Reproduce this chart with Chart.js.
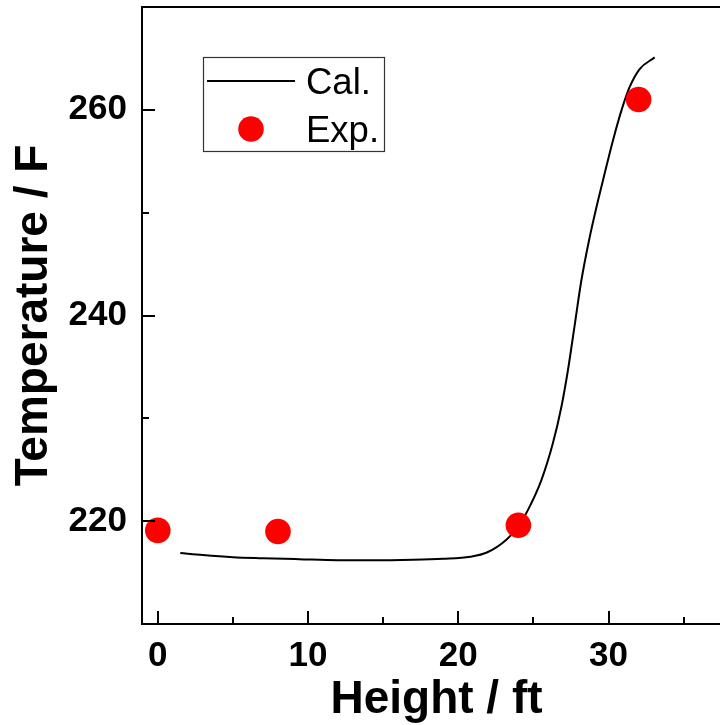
<!DOCTYPE html>
<html><head><meta charset="utf-8">
<script src="https://cdn.jsdelivr.net/npm/chart.js@4"></script>
<style>html,body{margin:0;padding:0;background:#fff;overflow:hidden;width:720px;height:725px}canvas{display:block}</style>
</head><body>
<canvas id="c" width="731" height="725"></canvas>
<script>
const calX = [1.5, 3, 5, 7, 9.4, 12, 14, 17, 19, 20.8, 21.9, 23.2, 24.0, 24.64, 25.53, 26.3, 26.86, 27.3, 27.74, 28.19, 28.7, 29.19, 29.74, 30.29, 30.85, 31.4, 32.07, 33.07];
const calY = [216.9, 216.7, 216.5, 216.4, 216.3, 216.2, 216.2, 216.25, 216.35, 216.55, 216.95, 218.2, 219.5, 221.1, 224.0, 227.6, 231.1, 234.7, 239.0, 243.4, 247.3, 250.5, 253.8, 257.0, 259.9, 262.2, 263.96, 265.1];
const expX = [0, 8, 24, 32];
const expY = [219.1, 219.0, 219.6, 261.0];
const xMajorTicks = [0, 10, 20, 30];
const xMinorTicks = [5, 15, 25, 35];
const yMajorTicks = [220, 240, 260];
const yMinorTicks = [230, 250];
const seriesNames = ['Cal.', 'Exp.'];
const xTitle = 'Height / ft';
const yTitle = 'Temperature / F';

const FONT = '"Liberation Sans", Arial, sans-serif';

const calPoints = calX.map((x, i) => ({x, y: calY[i]}));
const expPoints = expX.map((x, i) => ({x, y: expY[i]}));

const framePlugin = {
  id: 'frame',
  afterDraw(chart) {
    const {ctx, chartArea: a, scales} = chart;
    const xs = scales.x, ys = scales.y;
    ctx.save();
    ctx.strokeStyle = '#000';
    ctx.lineWidth = 2;
    ctx.beginPath();
    ctx.moveTo(a.left - 1, a.top);
    ctx.lineTo(a.right + 2, a.top);
    ctx.stroke();
    const xt = (v, len) => {
      const p = Math.round(xs.getPixelForValue(v));
      ctx.beginPath(); ctx.moveTo(p, a.bottom); ctx.lineTo(p, a.bottom - len); ctx.stroke();
    };
    const yt = (v, len) => {
      const p = Math.round(ys.getPixelForValue(v));
      ctx.beginPath(); ctx.moveTo(a.left, p); ctx.lineTo(a.left + len, p); ctx.stroke();
    };
    xMajorTicks.forEach(v => xt(v, 13));
    xMinorTicks.forEach(v => xt(v, 7));
    yMajorTicks.forEach(v => yt(v, 13));
    yMinorTicks.forEach(v => yt(v, 7));

    // legend
    const L = 203.5, T = 57.5, W = 181, H = 94;
    ctx.fillStyle = '#fff';
    ctx.fillRect(L, T, W, H);
    ctx.lineWidth = 1.2;
    ctx.strokeStyle = '#333';
    ctx.strokeRect(L, T, W, H);
    const ds0 = chart.data.datasets[1], ds1 = chart.data.datasets[0];
    ctx.strokeStyle = ds0.borderColor;
    ctx.lineWidth = ds0.borderWidth;
    ctx.beginPath(); ctx.moveTo(207, 81); ctx.lineTo(295, 81); ctx.stroke();
    ctx.fillStyle = ds1.backgroundColor;
    ctx.beginPath(); ctx.arc(251, 129, ds1.pointRadius, 0, Math.PI * 2); ctx.fill();
    ctx.fillStyle = '#000';
    ctx.font = '36.5px ' + FONT;
    ctx.textBaseline = 'alphabetic';
    ctx.textAlign = 'left';
    ctx.fillText(ds0.label, 306, 94);
    ctx.fillText(ds1.label, 306, 142);
    ctx.restore();
  }
};

new Chart(document.getElementById('c'), {
  type: 'scatter',
  data: {
    datasets: [
      {
        label: seriesNames[1],
        data: expPoints,
        showLine: false,
        pointRadius: 12.8,
        pointHoverRadius: 12.8,
        backgroundColor: '#ff0000',
        borderWidth: 0,
        pointBorderWidth: 0,
        order: 0
      },
      {
        label: seriesNames[0],
        data: calPoints,
        showLine: true,
        pointRadius: 0,
        borderColor: '#000000',
        borderWidth: 2,
        backgroundColor: '#000000',
        cubicInterpolationMode: 'monotone',
        fill: false,
        order: 1
      }
    ]
  },
  options: {
    responsive: false,
    devicePixelRatio: 1,
    animation: false,
    layout: { autoPadding: false, padding: { top: 7, right: 0, left: 0, bottom: 0 } },
    plugins: { legend: { display: false }, tooltip: { enabled: false } },
    scales: {
      x: {
        type: 'linear',
        min: -1.05,
        max: 38.15,
        afterBuildTicks: s => { s.ticks = xMajorTicks.map(v => ({value: v})); },
        afterFit: s => { s.height = 101; s.paddingLeft = 0; s.paddingRight = 0; },
        grid: { display: true, drawOnChartArea: false, drawTicks: false },
        border: { display: true, color: '#000', width: 2 },
        ticks: { color: '#000', padding: 11, maxRotation: 0, font: { family: FONT, size: 35, weight: 'bold' } },
        title: { display: true, text: xTitle, color: '#000', padding: { top: 0, bottom: 2 }, font: { family: FONT, size: 46, weight: 'bold', lineHeight: 1 } }
      },
      y: {
        type: 'linear',
        min: 210,
        max: 270,
        afterBuildTicks: s => { s.ticks = yMajorTicks.map(v => ({value: v})); },
        afterFit: s => { s.width = 142; s.paddingTop = 0; s.paddingBottom = 0; },
        grid: { display: true, drawOnChartArea: false, drawTicks: false },
        border: { display: true, color: '#000', width: 2 },
        ticks: { color: '#000', padding: 15, font: { family: FONT, size: 35, weight: 'bold' } },
        title: { display: true, text: yTitle, color: '#000', padding: { top: 11, bottom: 0 }, font: { family: FONT, size: 46, weight: 'bold', lineHeight: 1 } }
      }
    }
  },
  plugins: [framePlugin]
});
</script>
</body></html>
